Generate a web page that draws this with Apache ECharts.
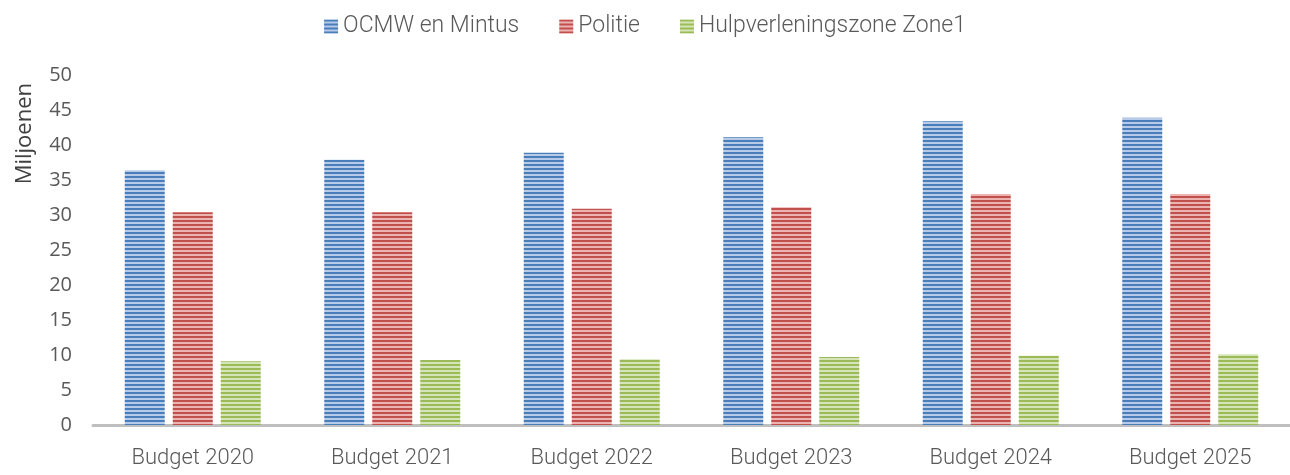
<!DOCTYPE html>
<html>
<head>
    <meta charset="utf-8">
    <title>Budget</title>
    <script src="https://cdn.jsdelivr.net/npm/echarts@6/dist/echarts.min.js"></script>
    <style>
        html, body {margin: 0; padding: 0; background: #fff;}
        #main {width: 1290px; height: 475px;}
    </style>
</head>
<body>
<div id="main"></div>
<script type="text/javascript">
    var categories = ['Budget 2020', 'Budget 2021', 'Budget 2022', 'Budget 2023', 'Budget 2024', 'Budget 2025'];
    var seriesNames = ['OCMW en Mintus', 'Politie', 'Hulpverleningszone Zone1'];
    var ocmw = [36.4, 37.9, 38.9, 41.1, 43.4, 43.9];
    var politie = [30.4, 30.4, 30.9, 31.1, 33.0, 33.0];
    var zone1 = [9.1, 9.3, 9.4, 9.7, 9.9, 10.1];
    var yTicks = [0, 50, 5];

    // horizontal stripe fill like the original
    function stripes(dark, light) {
        var c = document.createElement('canvas');
        c.width = 4;
        c.height = 4;
        var ctx = c.getContext('2d');
        ctx.fillStyle = light;
        ctx.fillRect(0, 0, 4, 4);
        ctx.fillStyle = dark;
        ctx.fillRect(0, 0, 4, 2);
        return {image: c, repeat: 'repeat'};
    }

    var fills = [
        stripes('#4a7ebb', '#b7cbe8'),
        stripes('#c0504d', '#ecb3b1'),
        stripes('#9bbb59', '#d6e5b8')
    ];

    var myChart = echarts.init(document.getElementById('main'));

    var option = {
        animation: false,
        legend: {
            top: 10,
            left: 'center',
            itemWidth: 14,
            itemHeight: 14,
            itemGap: 40,
            icon: 'rect',
            textStyle: {fontFamily: 'Roboto', fontWeight: 300, fontSize: 23, color: '#595959'},
            data: seriesNames
        },
        grid: {left: 93, right: 0, top: 75, bottom: 50},
        graphic: [{
            type: 'text',
            left: 14,
            top: 83,
            rotation: Math.PI / 2,
            style: {text: 'Miljoenen', fontFamily: 'Open Sans', fontSize: 22, fill: '#404040'}
        }],
        xAxis: {
            type: 'category',
            data: categories,
            axisLine: {lineStyle: {color: '#bfbfbf', width: 3}},
            axisTick: {show: false},
            axisLabel: {fontFamily: 'Roboto', fontWeight: 300, fontSize: 22, color: '#595959', margin: 22}
        },
        yAxis: {
            type: 'value',
            min: yTicks[0],
            max: yTicks[1],
            interval: yTicks[2],
            axisLine: {show: false},
            axisTick: {show: false},
            splitLine: {show: false},
            axisLabel: {fontFamily: 'Open Sans', fontSize: 20, color: '#595959', margin: 21}
        },
        series: [
            {name: seriesNames[0], type: 'bar', data: ocmw, barWidth: 40, barGap: '20%', itemStyle: {color: fills[0]}},
            {name: seriesNames[1], type: 'bar', data: politie, barWidth: 40, barGap: '20%', itemStyle: {color: fills[1]}},
            {name: seriesNames[2], type: 'bar', data: zone1, barWidth: 40, barGap: '20%', itemStyle: {color: fills[2]}}
        ]
    };

    myChart.setOption(option);
</script>
</body>
</html>
